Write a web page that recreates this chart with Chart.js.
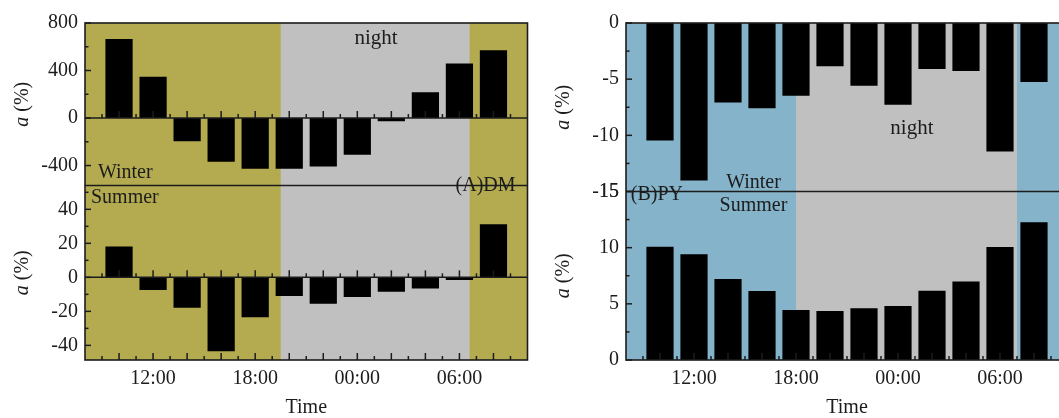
<!DOCTYPE html>
<html>
<head>
<meta charset="utf-8">
<script src="https://cdn.jsdelivr.net/npm/chart.js@4/dist/chart.umd.min.js"></script>
<style>
  html, body { margin: 0; padding: 0; background: #fff; overflow: hidden; }
  body { width: 1059px; height: 418px; position: relative; }
  canvas { position: absolute; top: 0; }
  #chartA { left: 0; }
  #chartB { left: 540px; }
</style>
</head>
<body>
<canvas id="chartA" width="540" height="418"></canvas>
<canvas id="chartB" width="560" height="418"></canvas>
<script>
// time of day in hours (24+ = next morning)
const hours = [10, 12, 14, 16, 18, 20, 22, 24, 26, 28, 30, 32];
const tickHours = [12, 18, 24, 30];
const tickLabels = ["12:00", "18:00", "00:00", "06:00"];

// (A) DM
const dmWinter = [665, 348, -195, -368, -426, -426, -407, -309, -28, 217, 460, 571];
const dmSummer = [18.1, -7.5, -17.9, -43.4, -23.4, -11, -15.5, -11.6, -8.4, -6.5, -1.6, 31.2];
const dmWinterTicks = [-400, 0, 400, 800];
const dmSummerTicks = [-40, -20, 0, 20, 40];
const dmNight = [19.5, 30.6];

// (B) PY
const pyWinter = [-10.45, -14.03, -7.07, -7.58, -6.48, -3.85, -5.58, -7.28, -4.09, -4.27, -11.43, -5.25];
const pySummer = [10.09, 9.41, 7.2, 6.14, 4.45, 4.37, 4.6, 4.81, 6.17, 6.99, 10.06, 12.27];
const pyWinterTicks = [-15, -10, -5, 0];
const pySummerTicks = [0, 5, 10, 15];
const pyNight = [18, 31];

const serif = "'Liberation Serif', 'Times New Roman', serif";
const ink = "#1c1c1c";
Chart.defaults.font.family = serif;
Chart.defaults.color = ink;

function line(ctx, x1, y1, x2, y2) {
    ctx.beginPath();
    ctx.moveTo(x1, y1);
    ctx.lineTo(x2, y2);
    ctx.stroke();
}

const panelDecor = {
    id: "panelDecor",
    beforeDatasetsDraw(chart, args, o) {
        const { ctx, chartArea: a, scales: { x } } = chart;
        ctx.save();
        ctx.fillStyle = o.dayColor;
        ctx.fillRect(a.left, a.top, a.width, a.height);
        const n0 = x.getPixelForValue(o.night[0]);
        const n1 = x.getPixelForValue(o.night[1]);
        ctx.fillStyle = "#c0c0c0";
        ctx.fillRect(n0, a.top, n1 - n0, a.height);
        ctx.restore();
    },
    afterDatasetsDraw(chart, args, o) {
        const { ctx, chartArea: a, scales } = chart;
        const x = scales.x;
        ctx.save();
        ctx.strokeStyle = ink;
        ctx.lineWidth = 1.5;

        for (const id of ["yW", "yS"]) {
            const s = scales[id];
            // zero line
            if (s.min < 0 && s.max > 0) {
                const y0 = s.getPixelForValue(0);
                line(ctx, a.left, y0, a.right, y0);
            }
            // x ticks pointing up from zero line (and from the bottom axis)
            const xTicksAt = [];
            if (s.min <= 0 && s.max > 0) xTicksAt.push(s.getPixelForValue(0));
            if (id === "yS" && s.min < 0) xTicksAt.push(a.bottom);
            for (const yb of xTicksAt) {
                for (let h = Math.ceil(x.min) + 1; h < x.max; h++) {
                    const len = h % 2 === 0 ? 7 : 4;
                    const px = x.getPixelForValue(h);
                    line(ctx, px, yb, px, yb - len);
                }
            }
            // y ticks pointing into the plot
            const vals = s.ticks.map(t => t.value);
            const step = (vals[1] - vals[0]) / 2;
            for (let v = vals[0] - step * 2; v <= s.max + 1e-9; v += step) {
                if (v < s.min - 1e-9) continue;
                const major = vals.some(t => Math.abs(t - v) < 1e-9);
                const py = s.getPixelForValue(v);
                line(ctx, a.left, py, a.left + (major ? 6 : 3.5), py);
            }
        }

        // divider between winter and summer
        const yDiv = scales.yW.bottom;
        ctx.lineWidth = 1.6;
        line(ctx, a.left, yDiv, a.right, yDiv);
        // frame
        ctx.strokeRect(a.left, a.top, a.right - a.left, a.bottom - a.top);

        // y titles: italic a + (%)
        for (const id of ["yW", "yS"]) {
            const s = scales[id];
            ctx.save();
            ctx.translate(a.left - 62, (s.top + s.bottom) / 2);
            ctx.rotate(-Math.PI / 2);
            ctx.fillStyle = ink;
            ctx.textBaseline = "middle";
            const fItalic = "italic 20px " + serif;
            const fNormal = "20px " + serif;
            ctx.font = fItalic;
            const wa = ctx.measureText("a").width;
            ctx.font = fNormal;
            const wr = ctx.measureText(" (%)").width;
            const x0 = -(wa + wr) / 2;
            ctx.font = fItalic;
            ctx.textAlign = "left";
            ctx.fillText("a", x0, 0);
            ctx.font = fNormal;
            ctx.fillText(" (%)", x0 + wa, 0);
            ctx.restore();
        }

        // annotations
        ctx.fillStyle = ink;
        ctx.textBaseline = "middle";
        for (const t of o.labels) {
            ctx.font = (t.size || 20) + "px " + serif;
            ctx.textAlign = t.align || "left";
            ctx.fillText(t.text, x.getPixelForValue(t.hour), scales[t.axis].getPixelForValue(t.value));
        }
        ctx.restore();
    }
};

function makePanel(id, cfg) {
    const canvas = document.getElementById(id);
    const ctx = canvas.getContext("2d");
    const barStyle = {
        backgroundColor: "#000",
        borderWidth: 0,
        grouped: false,
        barPercentage: 0.8,
        categoryPercentage: 1
    };
    const tickStyle = { font: { size: 20 }, color: ink, padding: 7, autoSkip: false };
    const yCommon = {
        type: "linear",
        position: "left",
        stack: "panel",
        grid: { display: false, drawTicks: false },
        border: { display: false },
        ticks: tickStyle,
        afterFit: s => { s.width = cfg.axisWidth; }
    };

    return new Chart(ctx, {
        type: "bar",
        data: {
            datasets: [
                Object.assign({ data: hours.map((h, i) => ({ x: h, y: cfg.summer[i] })), yAxisID: "yS" }, barStyle),
                Object.assign({ data: hours.map((h, i) => ({ x: h, y: cfg.winter[i] })), yAxisID: "yW" }, barStyle)
            ]
        },
        options: {
            responsive: false,
            animation: false,
            layout: { padding: { top: 23, right: cfg.padRight, bottom: 0, left: 0 } },
            plugins: {
                legend: { display: false },
                tooltip: { enabled: false },
                panelDecor: { dayColor: cfg.dayColor, night: cfg.night, labels: cfg.labels }
            },
            scales: {
                x: {
                    type: "linear",
                    offset: false,
                    min: 8,
                    max: 34,
                    afterBuildTicks: s => { s.ticks = tickHours.map(v => ({ value: v })); },
                    afterFit: s => { s.height = 58; },
                    ticks: {
                        font: { size: 20 },
                        color: ink,
                        padding: 7,
                        autoSkip: false,
                        maxRotation: 0,
                        callback: v => tickLabels[tickHours.indexOf(v)]
                    },
                    grid: { display: false, drawTicks: false, offset: false },
                    border: { display: false },
                    title: {
                        display: true,
                        text: "Time",
                        color: ink,
                        font: { size: 20, lineHeight: 1 },
                        padding: { top: 0, bottom: 0 }
                    }
                },
                yS: Object.assign({}, yCommon, {
                    stackWeight: cfg.weights[1],
                    min: cfg.summerRange[0],
                    max: cfg.summerRange[1],
                    afterBuildTicks: s => { s.ticks = cfg.summerTicks.map(v => ({ value: v })); }
                }),
                yW: Object.assign({}, yCommon, {
                    stackWeight: cfg.weights[0],
                    min: cfg.winterRange[0],
                    max: cfg.winterRange[1],
                    afterBuildTicks: s => { s.ticks = cfg.winterTicks.map(v => ({ value: v })); }
                })
            }
        },
        plugins: [panelDecor]
    });
}

makePanel("chartA", {
    winter: dmWinter,
    summer: dmSummer,
    winterTicks: dmWinterTicks,
    summerTicks: dmSummerTicks,
    winterRange: [-568, 800],
    summerRange: [-48.6, 54],
    weights: [162.5, 174.5],
    axisWidth: 85,
    padRight: 12.5,
    dayColor: "#b4ab50",
    night: dmNight,
    labels: [
        { text: "night", hour: 25.1, axis: "yW", value: 670, align: "center", size: 21 },
        { text: "Winter", hour: 8.76, axis: "yW", value: -463 },
        { text: "Summer", hour: 8.35, axis: "yS", value: 47 },
        { text: "(A)DM", hour: 33.3, axis: "yS", value: 54, align: "right" }
    ]
});

makePanel("chartB", {
    winter: pyWinter,
    summer: pySummer,
    winterTicks: pyWinterTicks,
    summerTicks: pySummerTicks,
    winterRange: [-15, 0],
    summerRange: [0, 15],
    weights: [1, 1],
    axisWidth: 86,
    padRight: 32,
    dayColor: "#85b3c9",
    night: pyNight,
    labels: [
        { text: "night", hour: 24.82, axis: "yW", value: -9.35, align: "center", size: 21 },
        { text: "Winter", hour: 15.5, axis: "yW", value: -14.26, align: "center" },
        { text: "Summer", hour: 15.5, axis: "yS", value: 13.76, align: "center" },
        { text: "(B)PY", hour: 8.28, axis: "yS", value: 14.7 }
    ]
});
</script>
</body>
</html>
